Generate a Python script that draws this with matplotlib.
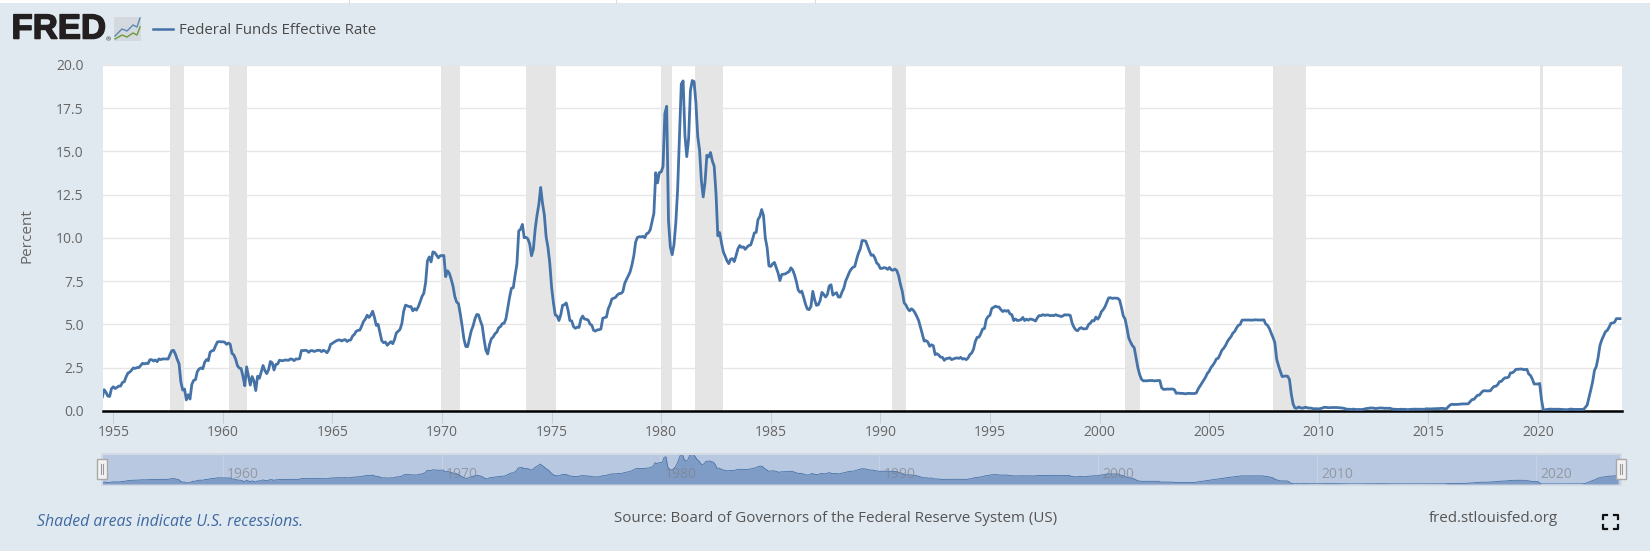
import matplotlib
matplotlib.use("Agg")
import matplotlib.pyplot as plt
import matplotlib.patheffects as pe
from matplotlib.patches import Rectangle
import numpy as np

plt.rcParams['font.family'] = ['Open Sans', 'DejaVu Sans']

# monthly FEDFUNDS values, starting Jul 1954
rates_1950s = [0.80,1.22,1.07,0.85,0.83,1.28,
    1.39,1.29,1.35,1.43,1.43,1.64,1.68,1.96,2.18,2.24,2.35,2.48,
    2.45,2.50,2.50,2.62,2.75,2.71,2.75,2.73,2.95,2.96,2.88,2.94,
    2.84,3.00,2.96,3.00,3.00,3.00,2.99,3.24,3.47,3.50,3.28,2.98,
    2.72,1.67,1.20,1.26,0.63,0.93,0.68,1.53,1.76,1.80,2.27,2.42,
    2.48,2.43,2.80,2.96,2.90,3.39,3.47,3.50,3.76,3.98,4.00,3.99]
rates_1960s = [3.99,3.97,3.84,3.92,3.85,3.32,3.23,2.98,2.60,2.47,2.44,1.98,
    1.45,2.54,2.02,1.49,1.98,1.73,1.17,2.00,1.88,2.26,2.62,2.33,
    2.15,2.37,2.85,2.78,2.36,2.68,2.71,2.93,2.90,2.90,2.94,2.93,
    2.92,3.00,2.98,2.90,3.00,2.99,3.02,3.49,3.48,3.50,3.48,3.38,
    3.48,3.48,3.43,3.47,3.50,3.50,3.42,3.50,3.45,3.36,3.52,3.85,
    3.90,3.98,4.04,4.09,4.10,4.04,4.09,4.12,4.01,4.08,4.10,4.32,
    4.42,4.60,4.65,4.67,4.90,5.17,5.30,5.53,5.40,5.53,5.76,5.40,
    4.94,5.00,4.53,4.05,3.94,3.98,3.79,3.90,4.00,3.88,4.13,4.51,
    4.60,4.71,5.05,5.76,6.11,6.07,6.02,6.03,5.78,5.91,5.82,6.02,
    6.30,6.61,6.79,7.41,8.67,8.90,8.61,9.19,9.15,9.00,8.85,8.97]
rates_1970s = [8.98,8.98,7.76,8.10,7.95,7.61,7.21,6.61,6.29,6.20,5.60,4.90,
    4.14,3.72,3.71,4.16,4.63,4.91,5.31,5.57,5.55,5.20,4.91,4.14,
    3.50,3.29,3.83,4.17,4.27,4.46,4.55,4.80,4.87,5.04,5.06,5.33,
    5.94,6.58,7.09,7.12,7.84,8.49,10.40,10.50,10.78,10.01,10.03,9.95,
    9.65,8.97,9.35,10.51,11.31,11.93,12.92,12.01,11.34,10.06,9.45,8.53,
    7.13,6.24,5.54,5.49,5.22,5.55,6.10,6.14,6.24,5.82,5.22,5.20,
    4.87,4.77,4.84,4.82,5.29,5.48,5.31,5.29,5.25,5.02,4.95,4.65,
    4.61,4.68,4.69,4.73,5.35,5.39,5.42,5.90,6.14,6.47,6.51,6.56,
    6.70,6.78,6.79,6.89,7.36,7.60,7.81,8.04,8.45,8.96,9.76,10.03,
    10.07,10.06,10.09,10.01,10.24,10.29,10.47,10.94,11.43,13.77,13.18,13.78]
rates_1980s = [13.82,14.13,17.19,17.61,10.98,9.47,9.03,9.61,10.87,12.81,15.85,18.90,
    19.08,15.93,14.70,15.72,18.52,19.10,19.04,17.82,15.87,15.08,13.31,12.37,
    13.22,14.78,14.68,14.94,14.45,14.15,12.59,10.12,10.31,9.71,9.20,8.95,
    8.68,8.51,8.77,8.80,8.63,8.98,9.37,9.56,9.45,9.48,9.34,9.47,
    9.56,9.59,9.91,10.29,10.32,11.06,11.23,11.64,11.30,9.99,9.43,8.38,
    8.35,8.50,8.58,8.27,7.97,7.53,7.88,7.90,7.92,7.99,8.05,8.27,
    8.14,7.86,7.48,6.99,6.85,6.92,6.56,6.17,5.89,5.85,6.04,6.91,
    6.43,6.10,6.13,6.37,6.85,6.73,6.58,6.73,7.22,7.29,6.69,6.77,
    6.83,6.58,6.58,6.87,7.09,7.51,7.75,8.01,8.19,8.30,8.35,8.76,
    9.12,9.36,9.85,9.84,9.81,9.53,9.24,8.99,9.02,8.84,8.55,8.45]
rates_1990s = [8.23,8.24,8.28,8.26,8.18,8.29,8.15,8.13,8.20,8.11,7.81,7.31,
    6.91,6.25,6.12,5.91,5.78,5.90,5.82,5.66,5.45,5.21,4.81,4.43,
    4.03,4.06,3.98,3.73,3.82,3.76,3.25,3.30,3.22,3.10,3.09,2.92,
    3.02,3.03,3.07,2.96,3.00,3.04,3.06,3.03,3.09,2.99,3.02,2.96,
    3.05,3.25,3.34,3.56,4.01,4.25,4.26,4.47,4.73,4.76,5.29,5.45,
    5.53,5.92,5.98,6.05,6.01,6.00,5.85,5.74,5.80,5.76,5.80,5.60,
    5.56,5.22,5.31,5.22,5.24,5.27,5.40,5.22,5.30,5.24,5.31,5.29,
    5.25,5.19,5.39,5.51,5.50,5.56,5.52,5.54,5.54,5.50,5.52,5.50,
    5.56,5.51,5.49,5.45,5.49,5.56,5.54,5.55,5.51,5.07,4.83,4.68,
    4.63,4.76,4.81,4.74,4.74,4.76,4.99,5.07,5.22,5.20,5.42,5.30]
rates_2000s = [5.45,5.73,5.85,6.02,6.27,6.53,6.54,6.50,6.52,6.51,6.51,6.40,
    5.98,5.49,5.31,4.80,4.21,3.97,3.77,3.65,3.07,2.49,2.09,1.82,
    1.73,1.74,1.73,1.75,1.75,1.75,1.73,1.74,1.75,1.75,1.34,1.24,
    1.24,1.26,1.25,1.26,1.26,1.22,1.01,1.03,1.01,1.01,1.00,0.98,
    1.00,1.01,1.00,1.00,1.00,1.03,1.26,1.43,1.61,1.76,1.93,2.16,
    2.28,2.50,2.63,2.79,3.00,3.04,3.26,3.50,3.62,3.78,4.00,4.16,
    4.29,4.49,4.59,4.79,4.94,4.99,5.24,5.25,5.25,5.25,5.25,5.24,
    5.25,5.26,5.26,5.25,5.25,5.25,5.26,5.02,4.94,4.76,4.49,4.24,
    3.94,2.98,2.61,2.28,1.98,2.00,2.01,2.00,1.81,0.97,0.39,0.16,
    0.15,0.22,0.18,0.15,0.18,0.21,0.16,0.16,0.15,0.12,0.12,0.12]
rates_2010s = [0.11,0.13,0.16,0.20,0.20,0.18,0.18,0.19,0.19,0.19,0.19,0.18,
    0.17,0.16,0.14,0.10,0.09,0.09,0.07,0.10,0.08,0.07,0.08,0.07,
    0.08,0.10,0.13,0.14,0.16,0.16,0.16,0.13,0.14,0.16,0.16,0.16,
    0.14,0.15,0.14,0.15,0.11,0.09,0.09,0.08,0.08,0.09,0.08,0.09,
    0.07,0.07,0.08,0.09,0.09,0.10,0.09,0.09,0.09,0.09,0.09,0.12,
    0.11,0.11,0.11,0.12,0.12,0.13,0.13,0.14,0.14,0.12,0.12,0.24,
    0.34,0.38,0.36,0.37,0.37,0.38,0.39,0.40,0.40,0.40,0.41,0.54,
    0.65,0.66,0.79,0.90,0.91,1.04,1.15,1.16,1.15,1.15,1.16,1.30,
    1.41,1.42,1.51,1.69,1.70,1.82,1.91,1.91,1.95,2.19,2.20,2.27,
    2.40,2.40,2.41,2.42,2.39,2.38,2.40,2.13,2.04,1.83,1.55,1.55]
rates_2020s = [1.55,1.58,0.65,0.05,0.05,0.08,0.09,0.10,0.09,0.09,0.09,0.09,
    0.09,0.08,0.07,0.07,0.06,0.08,0.10,0.09,0.08,0.08,0.08,0.08,
    0.08,0.08,0.20,0.33,0.77,1.21,1.68,2.33,2.56,3.08,3.78,4.10,
    4.33,4.57,4.65,4.83,5.06,5.08,5.12,5.33,5.33,5.33]

recession_starts = [1957.59, 1960.26, 1969.96, 1973.85, 1979.98, 1981.53, 1990.55, 2001.17, 2007.92, 2020.08]
recession_ends = [1958.24, 1961.09, 1970.84, 1975.18, 1980.50, 1982.84, 1991.17, 2001.84, 2009.42, 2020.25]

y_ticks = [0, 2.5, 5, 7.5, 10, 12.5, 15, 17.5, 20]
x_ticks = list(range(1955, 2021, 5))
nav_ticks = list(range(1960, 2021, 10))
series_name = "Federal Funds Effective Rate"

rates = rates_1950s + rates_1960s + rates_1970s + rates_1980s + rates_1990s + rates_2000s + rates_2010s + rates_2020s
dates = 1954.5 + np.arange(len(rates)) / 12

W, H = 1650, 551
BG = '#e1e9f0'
LINE = '#4572a7'
GREY = '#666666'
x_left = 1954.53
x_right = 2023.84

fig = plt.figure(figsize=(W / 100, H / 100), dpi=100, facecolor=BG)

# pixel helpers, origin top left like the screenshot
def px_axes(left, top, right, bottom, **kw):
    return fig.add_axes([left / W, 1 - bottom / H, (right - left) / W, (bottom - top) / H], **kw)

def px_text(x, y, s, **kw):
    kw.setdefault('va', 'center')
    return fig.text(x / W, 1 - y / H, s, **kw)

def px_rect(left, top, right, bottom, **kw):
    kw.setdefault('edgecolor', 'none')
    fig.add_artist(Rectangle((left / W, 1 - bottom / H), (right - left) / W, (bottom - top) / H,
                             transform=fig.transFigure, **kw))

def px_line(xs, ys, **kw):
    fig.add_artist(plt.Line2D([v / W for v in xs], [1 - v / H for v in ys], **kw))

# main chart
ax = px_axes(103, 65, 1622, 410.8)
ax.set_facecolor('white')
ax.set_xlim(x_left, x_right)
ax.set_ylim(0, 20)
for s, e in zip(recession_starts, recession_ends):
    ax.axvspan(s, e, color='#e5e5e5', lw=0, zorder=1)
ax.set_yticks(y_ticks)
ax.set_yticklabels([f"{v:.1f}" for v in y_ticks], fontsize=10, color=GREY)
ax.set_xticks(x_ticks)
ax.set_xticklabels([str(v) for v in x_ticks], fontsize=10, color=GREY)
ax.grid(axis='y', color='#e6e6e6', lw=1, zorder=0)
ax.set_axisbelow(True)
ax.tick_params(axis='y', length=0, pad=14)
ax.tick_params(axis='x', length=8.3, width=0.8, color='#c0d0e0', pad=2)
for side in ['top', 'left', 'right']:
    ax.spines[side].set_visible(False)
ax.spines['bottom'].set_color('black')
ax.spines['bottom'].set_linewidth(1.8)
ax.plot(dates, rates, color=LINE, lw=2.0, zorder=3, solid_joinstyle='round')
px_text(27, 236, 'Percent', rotation=90, ha='center', fontsize=11, color=GREY)

# navigator
px_rect(101, 453.3, 1622, 485.7, facecolor='#d3dae4', zorder=0)
nav = px_axes(103, 454.5, 1620, 484)
nav.set_facecolor('#b9c8e1')
nav.set_xlim(x_left, x_right)
nav.set_ylim(0, 19.1)
nav.fill_between(dates, rates, 0, color='#7f9cc6', lw=0, zorder=2)
nav.plot(dates, rates, color=LINE, lw=0.6, zorder=3)
nav.set_yticks([])
nav.set_xticks(nav_ticks)
nav.set_xticklabels([])
nav.tick_params(axis='x', length=0)
nav.grid(axis='x', color='#c6d1e4', lw=0.8, zorder=1)
nav.set_axisbelow(True)
for side in nav.spines.values():
    side.set_visible(False)
for year in nav_ticks:
    nav.annotate(str(year), (year, 0), xycoords=('data', 'axes fraction'), xytext=(4, 10),
                 textcoords='offset pixels', fontsize=10, color='#7f7f7f', alpha=0.65, va='center', zorder=5)

# navigator handles
for hx in [97, 1616]:
    px_rect(hx, 459.3, hx + 10, 478.7, facecolor='#f2f2f2', edgecolor='#a8a8a8', lw=1, zorder=6)
    for dx in [3.7, 5.7]:
        px_line([hx + dx] * 2, [464, 474], color='#999999', lw=0.8, zorder=7)

# header
px_text(11.5, 29, 'FRED', fontsize=25, fontweight='bold', family=['Liberation Sans'], color='#231f20',
        path_effects=[pe.withStroke(linewidth=1.1, foreground='#231f20')])
px_text(106, 39.5, '®', fontsize=4.5, color='#231f20')
px_rect(114, 17, 141, 41, facecolor='#d3d9de')
logo_x = [115, 122, 127, 133, 137, 140]
logo_blue = [36, 29, 31, 25, 27, 18]
logo_green = [39, 35, 37, 33, 35, 27]
px_line(logo_x, logo_blue, color='#5b87b2', lw=1)
px_line(logo_x, logo_green, color='#6d9a3c', lw=1)
px_line([152.7, 172.7], [29, 29], color=LINE, lw=1.8)
px_text(179, 30.5, series_name, fontsize=10.8, color='#4a4a4a')

# footer
px_text(37, 522.5, 'Shaded areas indicate U.S. recessions.', fontsize=11.4, style='italic', color='#3e6aa3')
px_text(836, 518.5, 'Source: Board of Governors of the Federal Reserve System (US)', ha='center', fontsize=10.9, color='#555555')
px_text(1429, 518.5, 'fred.stlouisfed.org', fontsize=10.9, color='#555555')

# fullscreen icon corners
cx0, cx1, cy0, cy1, arm = 1603, 1618, 515, 529, 4
for cx, cy, sx, sy in [(cx0, cy0, 1, 1), (cx1, cy0, -1, 1), (cx0, cy1, 1, -1), (cx1, cy1, -1, -1)]:
    px_line([cx + sx * arm, cx, cx], [cy, cy, cy + sy * arm], color='#111111', lw=1.6)

# white strip of the page above the chart, with its small separators
px_rect(0, 0, W, 3.3, facecolor='white')
for sep_x in [349, 616, 815]:
    px_line([sep_x, sep_x], [0, 3.3], color='#dcdcdc', lw=0.8)

fig.savefig('out.png', dpi=100, facecolor=BG)
